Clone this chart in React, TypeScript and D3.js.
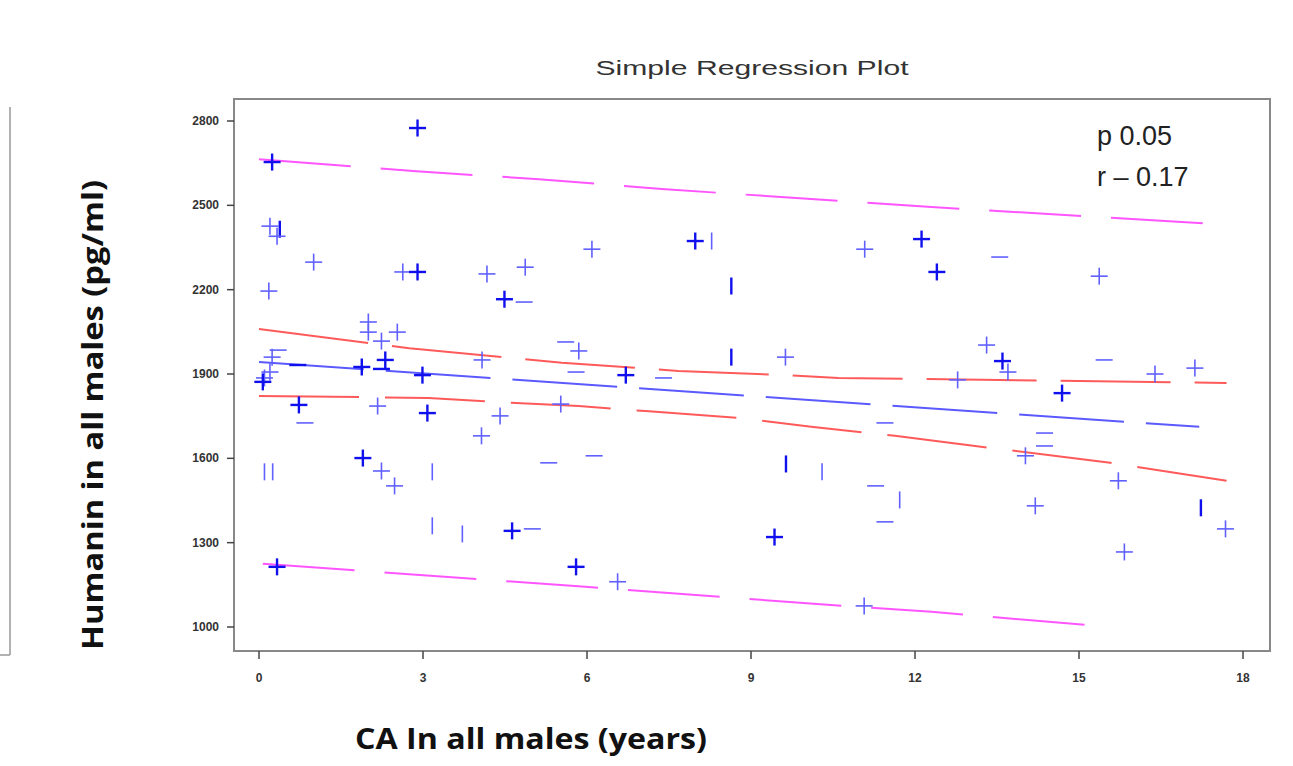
import React from 'react';
import * as d3 from 'd3';

// CA (years) vs humanin (pg/ml)
const caYears = [
  2.9, 0.24, 0.2, 0.38, 0.33, 1.0, 2.63, 2.9, 4.17, 4.87, 0.18, 6.09, 7.98, 8.28, 8.64,
  11.08, 12.12, 12.4, 13.55, 15.37, 4.49, 4.85, 2.0, 2.0, 2.53, 2.24, 0.35, 0.24, 0.2, 0.1,
  0.07, 0.71, 1.88, 2.31, 2.24, 2.99, 4.08, 5.61, 5.85, 5.8, 0.73, 0.84, 2.17, 3.08, 4.41,
  4.07, 5.52, 5.3, 1.9, 2.24, 2.48, 0.1, 0.25, 3.17, 8.64, 9.63, 6.71, 7.4, 6.13, 9.64,
  10.3, 11.45, 11.28, 13.31, 13.6, 13.7, 12.78, 15.46, 16.39, 17.12, 14.69, 14.37, 14.37, 14.02, 15.72,
  11.72, 11.45, 9.43, 6.56, 11.07, 0.33, 5.8, 3.17, 3.72, 4.63, 5.0, 14.2, 17.23, 17.68, 15.83,
];
const humanin = [
  2775, 2654, 2426, 2415, 2390, 2298, 2263, 2263, 2256, 2280, 2195, 2344, 2373, 2373, 2213,
  2344, 2380, 2263, 2316, 2248, 2166, 2156, 2085, 2049, 2049, 2017, 1985, 1960, 1907, 1886,
  1872, 1932, 1925, 1950, 1918, 1896, 1950, 2014, 1982, 1907, 1790, 1726, 1786, 1761, 1751,
  1680, 1793, 1584, 1601, 1555, 1502, 1552, 1552, 1552, 1960, 1960, 1896, 1886, 1609, 1580,
  1552, 1726, 1502, 2003, 1946, 1907, 1879, 1950, 1900, 1921, 1832, 1690, 1644, 1609, 1520,
  1452, 1374, 1320, 1161, 1075, 1214, 1214, 1360, 1331, 1342, 1349, 1431, 1424, 1349, 1267,
];
// glyph as it shows up in the scan: + plus, P heavy plus, | bar, I heavy bar, - dash, _ heavy dash
const glyphs = [
  'P', 'P', '+', 'I', '+', '+', '+', 'P', '+', '+', '+', '+', 'P', '|', 'I',
  '+', 'P', 'P', '-', '+', 'P', '-', '+', '+', '+', '+', '-', '+', '+', '+',
  'P', '_', 'P', 'P', '_', 'P', '+', '-', '+', '-', 'P', '-', '+', 'P', '+',
  '+', '+', '-', 'P', '+', '+', '|', '|', '|', 'I', '+', 'P', '-', '-', 'I',
  '|', '-', '-', '+', 'P', '+', '+', '-', '+', '+', 'P', '-', '-', '+', '+',
  '|', '-', 'P', '+', '+', 'P', 'P', '|', '|', 'P', '-', '+', 'I', '+', '+',
];

// fitted line, 95% confidence band, 95% prediction band
const fitLine: [number, number][] = [[0, 1943], [17.2, 1712]];
const ciUpper: [number, number][] = [[0, 2060], [2.75, 1992], [5.54, 1940], [7.67, 1911], [9.5, 1897], [10.6, 1886], [12.2, 1882], [17.7, 1868]];
const ciLower: [number, number][] = [[0, 1822], [3.1, 1815], [4.4, 1800], [5.85, 1786], [7.07, 1768], [8.77, 1744], [10.1, 1712], [11.63, 1680], [13.1, 1644], [15.57, 1584], [17.7, 1520]];
const piUpper: [number, number][] = [[0, 2664], [2.88, 2621], [5.12, 2593], [7.37, 2558], [12.3, 2494], [17.56, 2433]];
const piLower: [number, number][] = [[0.07, 1225], [5.97, 1143], [10.4, 1079], [12.3, 1054], [15.1, 1008]];

const xTicks = [0, 3, 6, 9, 12, 15, 18];
const yTicks = [1000, 1300, 1600, 1900, 2200, 2500, 2800];

export default function App() {
  const W = 1293, H = 766;
  const frame = {left: 234, top: 99, right: 1270, bottom: 651};

  const x = d3.scaleLinear().domain([0, 18]).range([259, 1243]);
  const y = d3.scaleLinear().domain([1000, 2800]).range([627, 121]);

  const line = d3.line<[number, number]>()
    .x(d => x(d[0]))
    .y(d => y(d[1]));

  const bands = [
    {pts: piUpper, color: '#ff55ff', dash: '92 30'},
    {pts: piLower, color: '#ff55ff', dash: '92 30'},
    {pts: ciUpper, color: '#ff5a5a', dash: '110 24'},
    {pts: ciLower, color: '#ff5a5a', dash: '100 26'},
    {pts: fitLine, color: '#5a5aff', dash: '105 22'},
  ];

  function marker(g: string, i: number) {
    const cx = x(caYears[i]), cy = y(humanin[i]);
    const heavy = g === 'P' || g === 'I' || g === '_';
    const stroke = heavy ? '#1010ee' : '#6060ff';
    const sw = heavy ? 2.4 : 1.6;
    const a = 8.5;
    const parts = [];
    if (g === '+' || g === 'P' || g === '-' || g === '_')
      parts.push(<line key="h" x1={cx - a} x2={cx + a} y1={cy} y2={cy} />);
    if (g === '+' || g === 'P' || g === '|' || g === 'I')
      parts.push(<line key="v" x1={cx} x2={cx} y1={cy - a} y2={cy + a} />);
    return (
      <g key={i} stroke={stroke} strokeWidth={sw}>{parts}</g>
    );
  }

  return (
    <svg width={W} height={H} style={{position: 'absolute', left: 0, top: 0, background: '#fff'}}
      fontFamily="'Liberation Sans', Arial, sans-serif">
      {/* stray edge of the neighbouring panel */}
      <line x1={10} x2={10} y1={107} y2={655} stroke="#999" strokeWidth={1.5} />
      <line x1={0} x2={10} y1={655} y2={655} stroke="#999" strokeWidth={1.5} />

      <text x={752} y={75} textAnchor="middle" fontSize={21} fill="#333" textLength={313} lengthAdjust="spacingAndGlyphs">
        Simple Regression Plot
      </text>

      <rect x={frame.left} y={frame.top} width={frame.right - frame.left} height={frame.bottom - frame.top}
        fill="none" stroke="#888" strokeWidth={2} />

      {yTicks.map(t => (
        <g key={t}>
          <line x1={frame.left - 7} x2={frame.left} y1={y(t)} y2={y(t)} stroke="#444" strokeWidth={1.5} />
          <text x={219} y={y(t) + 4} textAnchor="end" fontSize={12} fill="#333" fontWeight="bold">{t}</text>
        </g>
      ))}
      {xTicks.map(t => (
        <g key={t}>
          <line x1={x(t)} x2={x(t)} y1={frame.bottom} y2={frame.bottom + 8} stroke="#444" strokeWidth={1.5} />
          <text x={x(t)} y={682} textAnchor="middle" fontSize={12} fill="#333" fontWeight="bold">{t}</text>
        </g>
      ))}

      {bands.map((b, i) => (
        <path key={i} d={line(b.pts) || ''} fill="none" stroke={b.color} strokeWidth={2} strokeDasharray={b.dash} />
      ))}

      {glyphs.map((g, i) => marker(g, i))}

      <text x={1097} y={145} fontSize={27} fill="#222">p 0.05</text>
      <text x={1097} y={186} fontSize={27} fill="#222">r – 0.17</text>

      <text transform="translate(103,415) rotate(-90)" textAnchor="middle" fontSize={28} fontWeight="bold"
        fill="#111" fontFamily="'Open Sans', sans-serif" textLength={470} lengthAdjust="spacingAndGlyphs">
        Humanin in all males  (pg/ml)
      </text>
      <text x={531} y={749} textAnchor="middle" fontSize={28} fontWeight="bold"
        fill="#111" fontFamily="'Open Sans', sans-serif" textLength={352} lengthAdjust="spacingAndGlyphs">
        CA In all males (years)
      </text>
    </svg>
  );
}
